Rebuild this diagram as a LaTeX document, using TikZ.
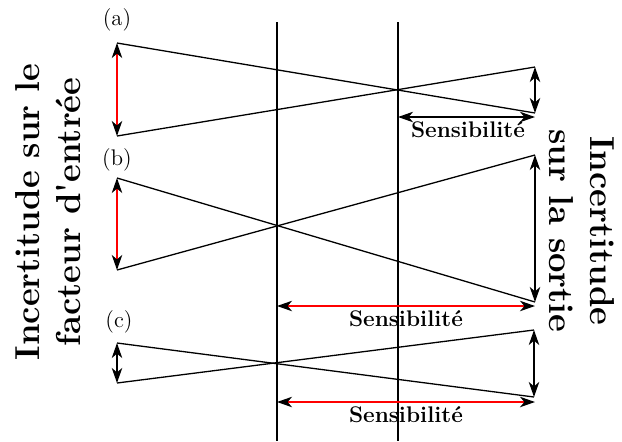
\documentclass[tikz,border=0pt]{standalone}
\usetikzlibrary{arrows.meta}
\begin{document}
\begin{tikzpicture}[x=0.5pt,y=-0.5pt,
  axisline/.style={line width=1pt},
  ray/.style={line width=0.65pt},
  dblarrow/.style={line width=1pt,{Stealth[length=7.5pt,width=5.2pt,inset=2.2pt]}-{Stealth[length=7.5pt,width=5.2pt,inset=2.2pt]}},
  redarrow/.style={line width=1pt,red,{Stealth[length=7.5pt,width=5.2pt,inset=2.2pt,black]}-{Stealth[length=7.5pt,width=5.2pt,inset=2.2pt,black]}},
  biglabel/.style={font=\fontsize{17.3}{20.6}\selectfont\bfseries,align=center,inner sep=0pt},
  senslabel/.style={font=\fontsize{11.3}{13}\selectfont\bfseries,inner sep=0pt},
  caselabel/.style={font=\fontsize{11.3}{13}\selectfont,inner sep=0pt}]
\useasboundingbox (0,0) rectangle (622,441);
% vertical axes
\coordinate (v1t) at (277,22); \coordinate (v1b) at (277,441);
\coordinate (v2t) at (398,22); \coordinate (v2b) at (398,441);
\draw[axisline] (v1t) -- (v1b);
\draw[axisline] (v2t) -- (v2b);
% (a)
\node[caselabel] (la) at (117,20) {(a)};
\coordinate (aLt) at (117,43); \coordinate (aLb) at (117,136);
\coordinate (aRt) at (535,67); \coordinate (aRb) at (535,113);
\draw[ray] (aLt) -- (aRb);
\draw[ray] (aLb) -- (aRt);
\draw[redarrow] (aLt) -- (aLb);
\draw[dblarrow] (aRt) -- (aRb);
\coordinate (aSl) at (398,117); \coordinate (aSr) at (535,117);
\draw[dblarrow] (aSl) -- (aSr);
\node[senslabel] (sa) at (468,130) {Sensibilité};
% (b)
\node[caselabel] (lb) at (117,160) {(b)};
\coordinate (bLt) at (117,178); \coordinate (bLb) at (117,270);
\coordinate (bRt) at (535,155); \coordinate (bRb) at (535,302);
\draw[ray] (bLt) -- (bRb);
\draw[ray] (bLb) -- (bRt);
\draw[redarrow] (bLt) -- (bLb);
\draw[dblarrow] (bRt) -- (bRb);
\coordinate (bSl) at (277,306); \coordinate (bSr) at (535,306);
\draw[redarrow] (bSl) -- (bSr);
\node[senslabel] (sb) at (406,319) {Sensibilité};
% (c)
\node[caselabel] (lc) at (119,322) {(c)};
\coordinate (cLt) at (117,343); \coordinate (cLb) at (117,383);
\coordinate (cRt) at (534,330); \coordinate (cRb) at (534,397);
\draw[ray] (cLt) -- (cRb);
\draw[ray] (cLb) -- (cRt);
\draw[dblarrow] (cLt) -- (cLb);
\draw[dblarrow] (cRt) -- (cRb);
\coordinate (cSl) at (277,402); \coordinate (cSr) at (535,402);
\draw[redarrow] (cSl) -- (cSr);
\node[senslabel] (sc) at (406,415) {Sensibilité};
% side labels
\node[biglabel,rotate=90] (inL) at (48,212) {Incertitude sur le\\facteur d\textquotesingle entrée};
\node[biglabel,rotate=-90] (inR) at (582,231) {Incertitude\\sur la sortie};
\end{tikzpicture}
\end{document}
